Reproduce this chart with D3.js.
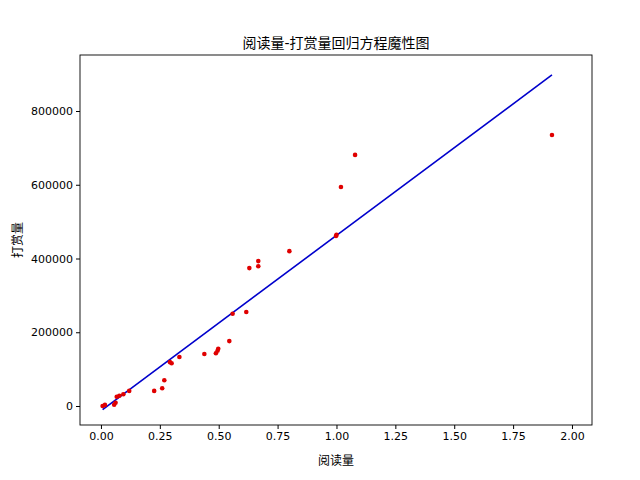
<!DOCTYPE html>
<html><head><meta charset="utf-8">
<script src="https://cdn.jsdelivr.net/npm/d3@7"></script>
<style>body{margin:0;background:#fff}text{font-family:"DejaVu Sans","Noto Sans CJK SC",sans-serif}</style>
</head><body><div id="chart"></div>
<script>
// 阅读量 (x) and 打赏量 (y)
var readCounts = [0.007,0.017,0.056,0.062,0.067,0.078,0.095,0.12,0.226,0.26,0.269,0.293,0.30,0.333,0.439,0.488,0.495,0.498,0.545,0.559,0.617,0.63,0.668,0.668,0.80,0.998,1.00,1.019,1.079,1.915];
var rewards = [0,3000,3500,9000,25000,28000,32000,41000,41000,48000,70000,119000,116000,133000,141000,143000,150000,155000,176000,250000,255000,374000,379000,393000,420000,461000,464000,594000,681000,735000];
var slope = 475700, intercept = -13000;
var xTicks = [0,0.25,0.5,0.75,1.0,1.25,1.5,1.75,2.0];
var yTicks = [0,200000,400000,600000,800000];

var svg = d3.select("#chart").append("svg").attr("width",640).attr("height",480);
var margin = {left:80, right:48, top:55, bottom:55};
var width = 640 - margin.left - margin.right, height = 480 - margin.top - margin.bottom;
var g = svg.append("g").attr("transform",`translate(${margin.left},${margin.top})`);

var x = d3.scaleLinear().domain([-0.089,2.085]).range([0,width]);
var y = d3.scaleLinear().domain([-51500,951900]).range([height,0]);

g.append("g").attr("transform",`translate(0,${height})`)
  .call(d3.axisBottom(x).tickValues(xTicks).tickFormat(d3.format(".2f")).tickSizeOuter(0).tickSize(4))
  .call(a=>a.selectAll("text").attr("font-size",11).attr("fill","#000"));
g.append("g")
  .call(d3.axisLeft(y).tickValues(yTicks).tickFormat(d3.format("d")).tickSizeOuter(0).tickSize(4))
  .call(a=>a.selectAll("text").attr("font-size",11).attr("fill","#000"));
g.selectAll(".domain").remove();
g.append("rect").attr("width",width).attr("height",height).attr("fill","none").attr("stroke","#000").attr("stroke-width",0.9);

var xs = d3.extent(readCounts);
g.append("line")
  .attr("x1",x(xs[0])).attr("y1",y(slope*xs[0]+intercept))
  .attr("x2",x(xs[1])).attr("y2",y(slope*xs[1]+intercept))
  .attr("stroke","#0000cc").attr("stroke-width",1.6);

g.selectAll("circle").data(readCounts).enter().append("circle")
  .attr("cx",d=>x(d)).attr("cy",(d,i)=>y(rewards[i])).attr("r",2.3).attr("fill","#e00000");

svg.append("text").attr("x",margin.left+width/2).attr("y",48).attr("text-anchor","middle")
  .attr("font-size",14).text("阅读量-打赏量回归方程魔性图");
svg.append("text").attr("x",margin.left+width/2).attr("y",465).attr("text-anchor","middle")
  .attr("font-size",12).text("阅读量");
svg.append("text").attr("transform",`translate(22,${margin.top+height/2}) rotate(-90)`).attr("text-anchor","middle")
  .attr("font-size",12).text("打赏量");
</script></body></html>
